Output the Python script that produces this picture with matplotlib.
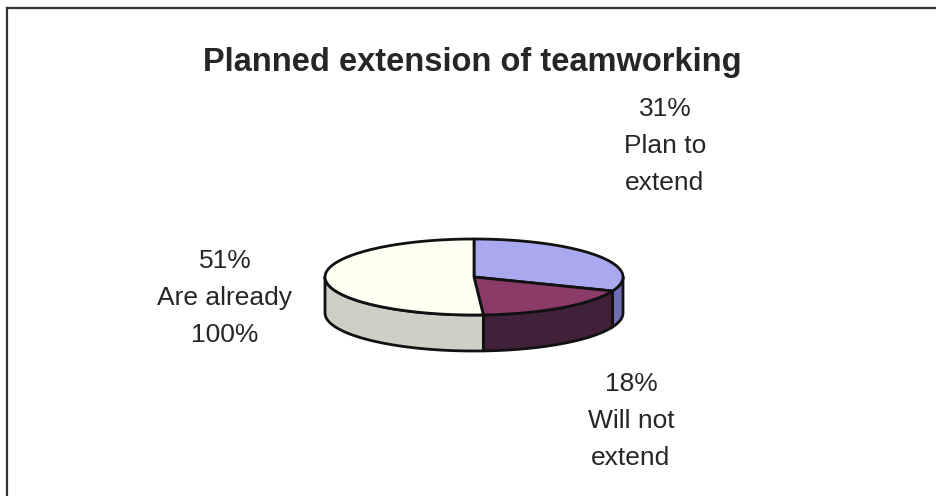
import numpy as np
import matplotlib.pyplot as plt
from matplotlib.patches import Polygon

# --- data ---
names = ['Plan to\nextend', 'Will not\nextend', 'Are already\n100%']
shares = [31, 18, 51]
top_colors = ['#a9a9f0', '#8a3b68', '#fffff2']
side_colors = ['#6e6eb4', '#41203a', '#cfcfc6']
label_pos = [(665, 146), (631, 421), (225, 298)]

# --- pie geometry (pixel coordinates, y grows downwards) ---
cx, cy = 474, 277
rx, ry = 149, 38
depth = 36

plt.rcParams['font.family'] = ['Liberation Sans', 'DejaVu Sans']
fig = plt.figure(figsize=(9.37, 4.96), dpi=100)
ax = fig.add_axes([0, 0, 1, 1])
ax.set_xlim(0, 937)
ax.set_ylim(496, 0)
ax.axis('off')


def arc(t0, t1, dy=0, n=80):
    t = np.radians(np.linspace(t0, t1, n))
    return np.column_stack([cx + rx * np.cos(t), cy - ry * np.sin(t) + dy])


# slice angles: start at 12 o'clock, go clockwise
fracs = np.array(shares) / sum(shares)
bounds = 90 - 360 * np.concatenate([[0], np.cumsum(fracs)])

# visible side walls (front half: angles between -180 and 0)
for i in range(len(shares)):
    a0, a1 = bounds[i], bounds[i + 1]
    hi, lo = min(a0, 0), max(a1, -180)
    if hi <= lo:
        continue
    top = arc(hi, lo)
    bot = arc(lo, hi, dy=depth)
    ax.add_patch(Polygon(np.vstack([top, bot]), closed=True, fc=side_colors[i],
                         ec='#111111', lw=2.0, joinstyle='round'))

# top faces
for i in range(len(shares)):
    pts = np.vstack([[cx, cy], arc(bounds[i], bounds[i + 1])])
    ax.add_patch(Polygon(pts, closed=True, fc=top_colors[i], ec='#111111',
                         lw=2.0, joinstyle='round'))

# labels
for name, share, (lx, ly) in zip(names, shares, label_pos):
    ax.text(lx, ly, f'{share}%\n{name}', ha='center', va='center',
            fontsize=19, color='#262626', linespacing=1.7)

ax.text(472, 71, 'Planned extension of teamworking', ha='center', va='baseline',
        fontsize=23.5, fontweight='bold', color='#262626')

# chart frame (only top and left edges show)
ax.plot([7, 937], [8, 8], color='#333333', lw=1.6)
ax.plot([7, 7], [8, 496], color='#333333', lw=1.6)

fig.savefig('out.png', dpi=100, facecolor='white')
